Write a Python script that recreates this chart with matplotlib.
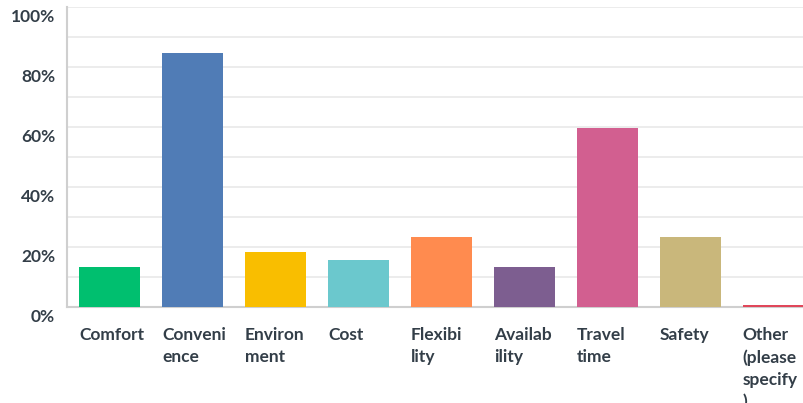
import matplotlib
matplotlib.use('Agg')
import matplotlib.pyplot as plt
from matplotlib.transforms import ScaledTranslation

# data
categories = ['Comfort', 'Conveni\nence', 'Environ\nment', 'Cost', 'Flexibi\nlity',
              'Availab\nility', 'Travel\ntime', 'Safety', 'Other\n(please\nspecify\n)']
values = [13.3, 84.7, 18.3, 15.7, 23.3, 13.3, 59.7, 23.3, 0.7]
colors = ['#00bf6f', '#507cb6', '#f9be00', '#6bc8cd', '#ff8b4f',
          '#7d5e90', '#d25f90', '#c9b77b', '#e0475a']
ytick_vals = [0, 20, 40, 60, 80, 100]
ytick_labels = ['0%', '20%', '40%', '60%', '80%', '100%']

text_color = '#333e48'
plt.rcParams['font.family'] = ['Lato', 'DejaVu Sans']

fig = plt.figure(figsize=(8.04, 4.03), dpi=100)
ax = fig.add_axes([67 / 804, 96 / 403, 1 - 67 / 804, 300 / 403])

x = list(range(len(categories)))
bar_w = 0.735
ax.bar(x, values, width=bar_w, color=colors, zorder=5)

ax.set_xlim(-0.512, 8.37)
ax.set_ylim(0, 100)

# gridlines every 10%
ax.set_yticks(ytick_vals)
ax.set_yticks(range(10, 100, 20), minor=True)
ax.yaxis.grid(True, which='both', color='#e9e9e9', linewidth=1.2, zorder=0)
ax.set_yticklabels(ytick_labels, fontsize=12.5, fontweight='bold', color=text_color)
ax.tick_params(axis='y', which='both', length=0, pad=8.5)
offset = ScaledTranslation(0, -9 / 100, fig.dpi_scale_trans)
for lab in ax.get_yticklabels():
    lab.set_transform(lab.get_transform() + offset)

# x labels, left aligned with the bar edges
ax.set_xticks([])
for xi, name in zip(x, categories):
    ax.text(xi - bar_w / 2, -6.8, name, ha='left', va='top', fontsize=12.5,
            fontweight='bold', color=text_color, linespacing=1.45,
            transform=ax.transData, clip_on=False)

for side in ['top', 'right']:
    ax.spines[side].set_visible(False)
for side in ['left', 'bottom']:
    ax.spines[side].set_color('#cfcfcf')
    ax.spines[side].set_linewidth(1.5)
    ax.spines[side].set_zorder(4)

fig.savefig('out.png', dpi=100)
